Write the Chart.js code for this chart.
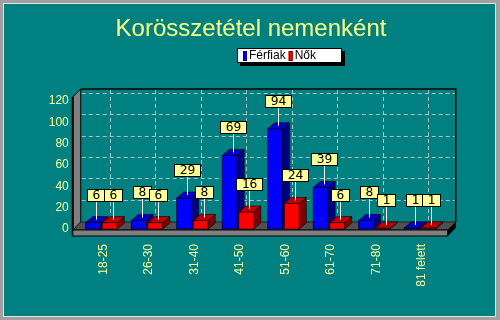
<!DOCTYPE html>
<html>
<head>
<meta charset="utf-8">
<script src="https://cdn.jsdelivr.net/npm/chart.js@4/dist/chart.umd.min.js"></script>
<style>
  body { margin: 0; background: #a0a0a0; overflow: hidden; }
  canvas { display: block; }
</style>
</head>
<body>
<canvas id="myChart" width="500" height="320"></canvas>
<script>
// adatok
var korcsoportok = ["18-25", "26-30", "31-40", "41-50", "51-60", "61-70", "71-80", "81 felett"];
var ferfiak = [6, 8, 29, 69, 94, 39, 8, 1];
var nok = [6, 6, 8, 16, 24, 6, 1, 1];
var cim = "Korösszetétel nemenként";
var yMin = 0, yMax = 120, yStep = 20;

// 3D look
var DX = 7, DY = 6;   // bar depth
var WX = 8, WY = 8;   // wall depth
var oldal = ["#000080", "#800000"];
var teto = ["#0000c8", "#c00000"];

var haromD = {
  id: "haromD",
  beforeDraw: function (chart) {
    var c = chart.ctx;
    c.save();
    c.fillStyle = "#a0a0a0"; c.fillRect(0, 0, 500, 320);
    c.fillStyle = "#e4e4e4"; c.fillRect(3, 3, 493, 314);
    c.fillStyle = "#008080"; c.fillRect(4, 4, 491, 312);
    // cim
    c.fillStyle = "#ffff80";
    c.font = "24px Arial, 'Liberation Sans'";
    c.textAlign = "center";
    c.textBaseline = "alphabetic";
    c.fillText(cim, 251, 36);
    c.restore();
  },
  beforeDatasetsDraw: function (chart) {
    var c = chart.ctx, a = chart.chartArea, ys = chart.scales.y, xs = chart.scales.x;
    var L = a.left - 6, R = a.right + 5;
    var B = ys.getPixelForValue(0) + 1;
    var T = ys.getPixelForValue(yMax) - WY - 4;
    c.save();
    // left wall
    c.fillStyle = "#808080";
    c.beginPath();
    c.moveTo(L, B); c.lineTo(L, T + WY); c.lineTo(L + WX, T); c.lineTo(L + WX, B - WY);
    c.closePath(); c.fill();
    c.strokeStyle = "#000"; c.lineWidth = 1;
    c.stroke();
    c.lineWidth = 2;
    c.beginPath(); c.moveTo(L, T + WY); c.lineTo(L, B + 6); c.stroke();
    // back wall frame
    c.lineWidth = 1.5;
    c.beginPath();
    c.moveTo(L + WX, T); c.lineTo(R + WX, T); c.lineTo(R + WX, B - WY);
    c.stroke();
    // grid on back wall
    c.strokeStyle = "rgba(205,205,205,0.85)";
    c.lineWidth = 1;
    c.setLineDash([4, 3]);
    for (var v = yMin + yStep; v <= yMax; v += yStep) {
      var gy = Math.round(ys.getPixelForValue(v) - WY) + 0.5;
      c.beginPath(); c.moveTo(L + WX + 1, gy); c.lineTo(R + WX - 1, gy); c.stroke();
    }
    for (var i = 0; i < korcsoportok.length; i++) {
      var gx = Math.round(xs.getPixelForValue(i) + WX) + 0.5;
      c.beginPath(); c.moveTo(gx, T + 1); c.lineTo(gx, B - WY); c.stroke();
    }
    c.setLineDash([]);
    // floor
    c.fillStyle = "#505050";
    c.beginPath();
    c.moveTo(L, B); c.lineTo(L + WX, B - WY); c.lineTo(R + WX, B - WY); c.lineTo(R, B);
    c.closePath(); c.fill();
    c.strokeStyle = "#222"; c.stroke();
    c.fillStyle = "#808080";
    c.fillRect(L, B, R - L, 6);
    c.strokeStyle = "#000";
    c.strokeRect(L, B, R - L, 6);
    c.fillStyle = "#000";
    c.beginPath();
    c.moveTo(R, B); c.lineTo(R + WX, B - WY); c.lineTo(R + WX, B - WY + 6); c.lineTo(R, B + 6);
    c.closePath(); c.fill();
    c.restore();
  },
  afterDatasetsDraw: function (chart) {
    var c = chart.ctx;
    var metas = [chart.getDatasetMeta(0), chart.getDatasetMeta(1)];
    c.save();
    c.lineWidth = 1;
    c.strokeStyle = "rgba(0,0,0,0.6)";
    for (var i = 0; i < korcsoportok.length; i++) {
      for (var d = 0; d < 2; d++) {
        var el = metas[d].data[i];
        var l = el.x - el.width / 2, r = el.x + el.width / 2, t = el.y, b = el.base;
        c.fillStyle = chart.data.datasets[d].backgroundColor;
        c.fillRect(l, t, r - l, b - t);
        c.strokeRect(l, t, r - l, b - t);
        c.fillStyle = oldal[d];
        c.beginPath();
        c.moveTo(r, t); c.lineTo(r + DX, t - DY); c.lineTo(r + DX, b - DY); c.lineTo(r, b);
        c.closePath(); c.fill(); c.stroke();
        c.fillStyle = teto[d];
        c.beginPath();
        c.moveTo(l, t); c.lineTo(l + DX, t - DY); c.lineTo(r + DX, t - DY); c.lineTo(r, t);
        c.closePath(); c.fill(); c.stroke();
      }
    }
    // value labels
    c.font = "13px 'DejaVu Sans Mono'";
    c.textAlign = "center";
    c.textBaseline = "middle";
    for (var d2 = 0; d2 < 2; d2++) {
      var vals = chart.data.datasets[d2].data;
      for (var j = 0; j < vals.length; j++) {
        var e = metas[d2].data[j];
        var cx = Math.round(e.x + 3);
        var txt = String(vals[j]);
        var w = Math.round(c.measureText(txt).width + 10);
        var bx = cx - Math.round(w / 2), by = Math.round(e.y - 34);
        c.strokeStyle = "#fff";
        c.beginPath(); c.moveTo(cx + 0.5, by + 12); c.lineTo(cx + 0.5, e.y - DY / 2); c.stroke();
        c.fillStyle = "#ffff99";
        c.fillRect(bx, by, w, 12);
        c.strokeStyle = "#000";
        c.strokeRect(bx + 0.5, by + 0.5, w, 12);
        c.fillStyle = "#000";
        c.fillText(txt, bx + w / 2 + 0.5, by + 7);
      }
    }
    c.restore();
  },
  afterDraw: function (chart) {
    // legend box
    var c = chart.ctx;
    c.save();
    c.fillStyle = "#000";
    c.fillRect(240, 51, 105, 15);
    c.fillStyle = "#fff";
    c.fillRect(237, 48, 105, 15);
    c.strokeStyle = "#000"; c.lineWidth = 1;
    c.strokeRect(237.5, 48.5, 104, 14);
    c.font = "12px Arial, 'Liberation Sans'";
    c.textBaseline = "middle";
    c.textAlign = "left";
    var x = 243;
    for (var d = 0; d < chart.data.datasets.length; d++) {
      var ds = chart.data.datasets[d];
      c.fillStyle = ds.backgroundColor;
      c.fillRect(x, 51, 4, 10);
      c.strokeStyle = oldal[d];
      c.strokeRect(x + 0.5, 51.5, 3, 9);
      c.fillStyle = "#000";
      c.fillText(ds.label, x + 6, 56);
      x += 6 + c.measureText(ds.label).width + 3;
    }
    c.restore();
  }
};

var ctx = document.getElementById("myChart").getContext("2d");
var myChart = new Chart(ctx, {
  type: "bar",
  data: {
    labels: korcsoportok,
    datasets: [
      { label: "Férfiak", data: ferfiak, backgroundColor: "#0000ff" },
      { label: "Nők", data: nok, backgroundColor: "#ff0000" }
    ]
  },
  options: {
    responsive: false,
    animation: false,
    devicePixelRatio: 1,
    layout: { padding: { top: 101, right: 57.25, bottom: 0, left: 0 } },
    datasets: { bar: { categoryPercentage: 0.73, barPercentage: 0.9 } },
    plugins: {
      legend: { display: false },
      title: { display: false },
      tooltip: { enabled: false }
    },
    scales: {
      x: {
        grid: { display: false, drawTicks: false },
        border: { display: false },
        ticks: {
          color: "#ffff99",
          font: { family: "Arial, 'Liberation Sans'", size: 12 },
          minRotation: 90, maxRotation: 90, autoSkip: false, padding: 15,
          labelOffset: 2
        },
        afterFit: function (s) { s.height = 91; }
      },
      y: {
        min: yMin, max: yMax,
        grid: { display: false, drawTicks: false },
        border: { display: false },
        ticks: {
          stepSize: yStep,
          color: "#ffff99",
          font: { family: "Arial, 'Liberation Sans'", size: 12 },
          padding: 10
        },
        afterFit: function (s) { s.width = 78.75; }
      }
    }
  },
  plugins: [haromD]
});
</script>
</body>
</html>
